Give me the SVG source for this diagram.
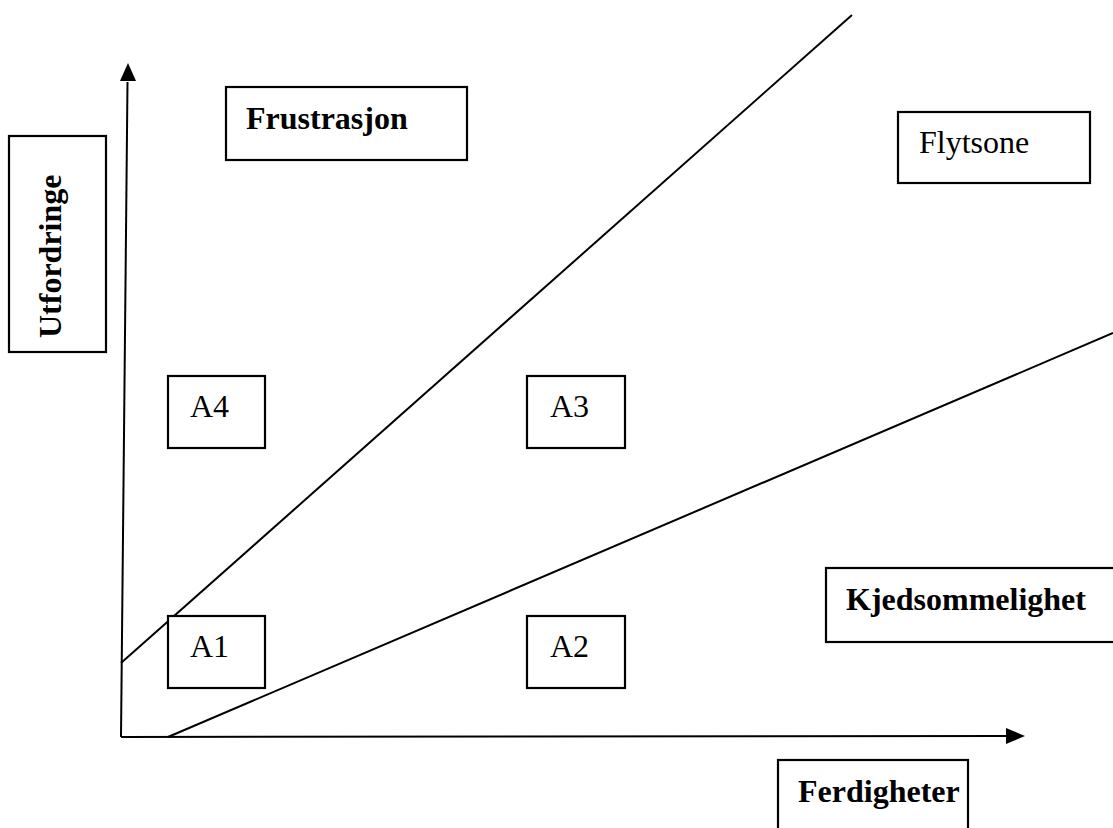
<svg xmlns="http://www.w3.org/2000/svg" width="1113" height="828" viewBox="0 0 1113 828">
<style>
.box{fill:#fff;stroke:#000;stroke-width:2.2}
.ln{stroke:#000;stroke-width:2;fill:none}
.t{font-family:"Liberation Serif","Times New Roman",serif;font-size:32px;fill:#000}
.b{font-weight:bold}
</style>
<rect width="1113" height="828" fill="#fff"/>
<g id="connectors">
<line class="ln" x1="121" y1="737" x2="1007" y2="736"/>
<polygon points="1006,728 1025,736 1006,744" fill="#000"/>
<line class="ln" x1="121" y1="737" x2="127.5" y2="82"/>
<polygon points="120,81 128,63 136,81" fill="#000"/>
<line class="ln" x1="121" y1="663" x2="852" y2="15"/>
<line class="ln" x1="168" y1="737" x2="1113" y2="333"/>
</g>
<g id="utfordringe">
<rect class="box" x="9" y="136" width="97" height="216"/>
<text class="t b" x="61" y="338" transform="rotate(-90 61 338)">Utfordringe</text>
</g>
<g id="frustrasjon">
<rect class="box" x="226" y="87" width="241" height="73"/>
<text class="t b" x="246" y="129">Frustrasjon</text>
</g>
<g id="flytsone">
<rect class="box" x="898" y="112" width="192" height="71"/>
<text class="t" x="919" y="153">Flytsone</text>
</g>
<g id="a4">
<rect class="box" x="168" y="376" width="97" height="72"/>
<text class="t" x="190" y="417">A4</text>
</g>
<g id="a3">
<rect class="box" x="527" y="376" width="98" height="72"/>
<text class="t" x="550" y="417">A3</text>
</g>
<g id="kjedsommelighet">
<rect class="box" x="826" y="568" width="300" height="74"/>
<text class="t b" x="846" y="610">Kjedsommelighet</text>
</g>
<g id="a1">
<rect class="box" x="168" y="616" width="97" height="72"/>
<text class="t" x="190" y="657">A1</text>
</g>
<g id="a2">
<rect class="box" x="527" y="616" width="98" height="72"/>
<text class="t" x="550" y="657">A2</text>
</g>
<g id="ferdigheter">
<rect class="box" x="778" y="760" width="190" height="80"/>
<text class="t b" x="798" y="802">Ferdigheter</text>
</g>
</svg>
